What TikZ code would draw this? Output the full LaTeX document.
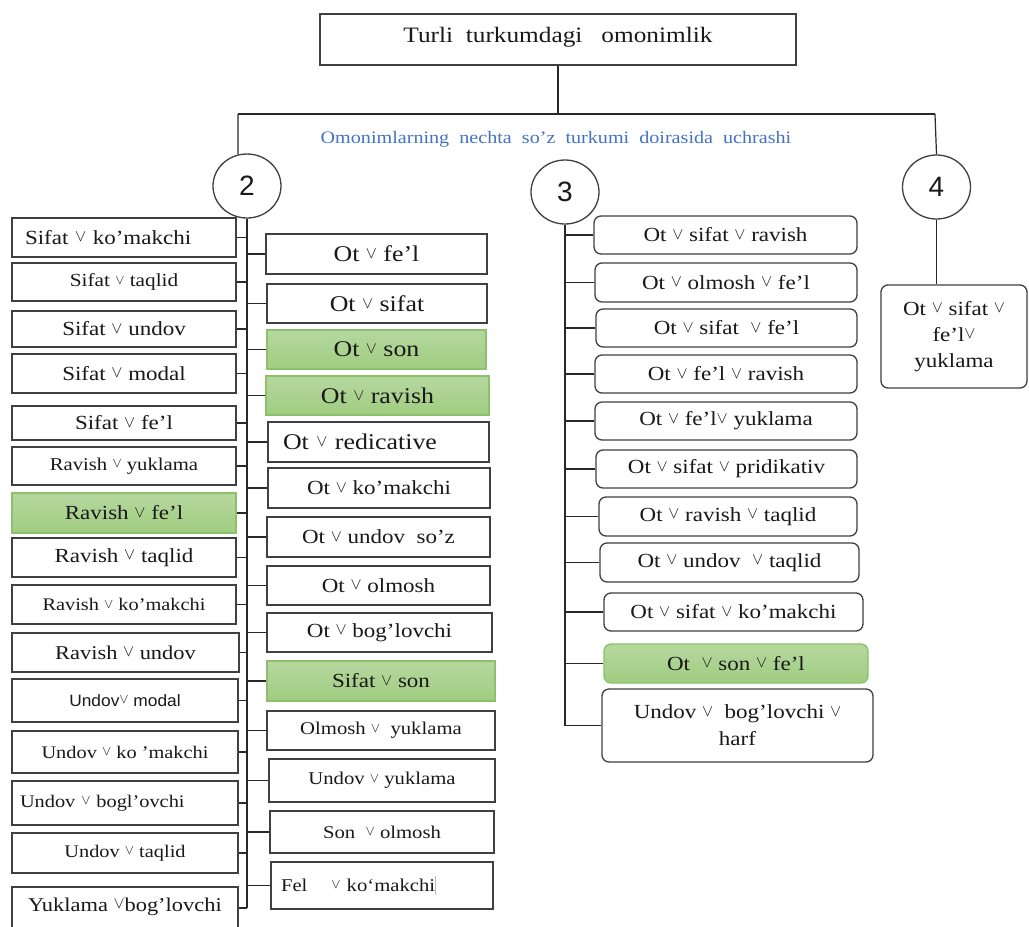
\documentclass[tikz,border=0pt]{standalone}
\usepackage{graphicx}
\usepackage{fontspec}
\setmainfont{Liberation Serif}[FakeStretch=1.15]
\newfontfamily\numfont{Liberation Sans}
\newfontfamily\sansf{Liberation Sans}[FakeStretch=1.05]
\usetikzlibrary{shapes.geometric}
\definecolor{bordc}{RGB}{64,64,64}
\definecolor{linec}{RGB}{40,40,40}
\definecolor{txtc}{RGB}{25,25,25}
\definecolor{bluet}{RGB}{68,114,196}
\definecolor{gtop}{RGB}{182,216,160}
\definecolor{gbot}{RGB}{160,204,128}
\definecolor{gbord}{RGB}{140,192,108}
\newcommand\myor{\raisebox{0.3ex}{\scalebox{0.8}{$\vee$}}}
\newcommand\fsz[2]{\fontsize{#1}{#2}\selectfont}
\tikzset{
  box/.style={draw=bordc, line width=1.3pt, fill=white, inner sep=0pt, text=txtc, align=center},
  gbox/.style={box, draw=gbord, top color=gtop, bottom color=gbot},
  rbox/.style={box, rounded corners=7pt},
  circ/.style={ellipse, draw=bordc, line width=1.3pt, fill=white, minimum width=68pt, minimum height=64pt, inner sep=0pt, font=\numfont\fsz{28}{32}, text=txtc},
  conn/.style={draw=linec, line width=1.2pt},
  wh/.style 2 args={minimum width=#1pt, minimum height=#2pt},
  lf/.style 2 args={text width=#1pt, inner xsep=#2pt, align=left},
}
\begin{document}
\begin{tikzpicture}[x=1pt,y=-1pt]
\useasboundingbox[fill=white] (0,0) rectangle (1029,927);

% top
\node[box, wh={476}{51}, text height=16pt, text depth=10pt, font=\fsz{22}{26}] (top) at (558,39.5) {Turli\ \ turkumdagi\ \ \ omonimlik};
\node[text=bluet, font=\fsz{17.5}{20}, inner sep=0pt] (blue) at (556,139) {Omonimlarning\ \ nechta\ \ so’z\ \ turkumi\ \ doirasida\ \ uchrashi};

\node[circ] (k2) at (247,186) {2};
\node[circ] (k3) at (565,192) {3};
\node[circ] (k4) at (936.5,187) {4};

\coordinate (hl) at (238,114);
\coordinate (hr) at (935,114);
\draw[conn] (top.south) -- (top.south |- hl);
\draw[conn] (hl) -- (hr);
\draw[conn] (hl) -- (k2.106);
\draw[conn] (hr) -- (k4.north);

% left column
\node[box, wh={224}{39}, lf={198}{13}, font=\fsz{20}{24}] (l1) at (124,237.5) {Sifat \myor{} ko’makchi};
\node[box, wh={224}{38}, font=\fsz{18.5}{22}] (l2) at (124,282) {Sifat \myor{} taqlid};
\node[box, wh={224}{36}, font=\fsz{20}{24}] (l3) at (124,329) {Sifat \myor{} undov};
\node[box, wh={224}{39}, font=\fsz{20}{24}] (l4) at (124,373.5) {Sifat \myor{} modal};
\node[box, wh={224}{34}, font=\fsz{20}{24}] (l5) at (124,423) {Sifat \myor{} fe’l};
\node[box, wh={224}{38}, font=\fsz{18}{22}] (l6) at (124,466) {Ravish \myor{} yuklama};
\node[gbox, wh={224}{40}, font=\fsz{20}{24}] (l7) at (124,513) {Ravish \myor{} fe’l};
\node[box, wh={224}{39}, font=\fsz{20}{24}] (l8) at (124,557.5) {Ravish \myor{} taqlid};
\node[box, wh={224}{39}, font=\fsz{17.7}{22}] (l9) at (124,604.5) {Ravish \myor{} ko’makchi};
\node[box, wh={227}{39}, font=\fsz{19.5}{24}] (l10) at (125.5,652.5) {Ravish \myor{} undov};
\node[box, wh={226}{43}, font=\sansf\fsz{16.5}{20}] (l11) at (125,700.5) {Undov\myor{} modal};
\node[box, wh={226}{42}, font=\fsz{17.7}{22}] (l12) at (125,752) {Undov \myor{} ko ’makchi};
\node[box, wh={226}{44}, lf={210}{8}, font=\fsz{17.7}{22}] (l13) at (125,803) {Undov \myor{} bogl’ovchi};
\node[box, wh={226}{40}, font=\fsz{17.7}{22}] (l14) at (125,853) {Undov \myor{} taqlid};
\node[box, wh={226}{60}, text height=14pt, text depth=26pt, font=\fsz{19.5}{24}] (l15) at (125,917) {Yuklama \myor{}bog’lovchi};

% middle column
\node[box, wh={221}{40}, font=\fsz{22.5}{26}] (m1) at (376.5,254) {Ot \myor{} fe’l};
\node[box, wh={220}{39}, font=\fsz{22.5}{26}] (m2) at (377,303.5) {Ot \myor{} sifat};
\node[gbox, wh={219}{39}, font=\fsz{22.5}{26}] (m3) at (376.5,349.5) {Ot \myor{} son};
\node[gbox, wh={223}{39}, font=\fsz{22.5}{26}] (m4) at (377.5,395.5) {Ot \myor{} ravish};
\node[box, wh={221}{40}, lf={191}{15}, font=\fsz{22.5}{26}] (m5) at (378.5,442) {Ot \myor{} redicative};
\node[box, wh={222}{40}, font=\fsz{20}{24}] (m6) at (379,488) {Ot \myor{} ko’makchi};
\node[box, wh={223}{40}, font=\fsz{20}{24}] (m7) at (378.5,537) {Ot \myor{} undov\ \ so’z};
\node[box, wh={223}{39}, font=\fsz{20}{24}] (m8) at (378.5,585.5) {Ot \myor{} olmosh};
\node[box, wh={225}{39}, font=\fsz{20}{24}] (m9) at (379.5,632.5) {Ot \myor{} bog’lovchi};
\node[gbox, wh={228}{40}, font=\fsz{20}{24}] (m10) at (381,681) {Sifat \myor{} son};
\node[box, wh={228}{39}, font=\fsz{18}{22}] (m11) at (381,730.5) {Olmosh \myor{}\ \ yuklama};
\node[box, wh={226}{43}, font=\fsz{18}{22}] (m12) at (382,780.5) {Undov \myor{} yuklama};
\node[box, wh={224}{42}, font=\fsz{18}{22}] (m13) at (382,832) {Son\ \ \myor{} olmosh};
\node[box, wh={222}{47}, lf={202}{10}, font=\fsz{18}{22}] (m14) at (382,885.5) {Fel\ \ \ \ \myor{} ko‘makchi{\color{lightgray}\rule[-0.2em]{0.5pt}{1.05em}}};

\coordinate (t2e) at (247,908);
\draw[conn] (k2.south) -- (t2e);
\foreach \i in {1,...,14} \draw[conn] (l\i.east) -- (l\i.east -| t2e);
\draw[conn] (t2e -| l15.east) -- (t2e);
\foreach \i in {1,...,14} \draw[conn] (m\i.west) -- (m\i.west -| t2e);

% column 3
\node[rbox, wh={263}{38}, font=\fsz{20}{24}] (c1) at (725.5,235) {Ot \myor{} sifat \myor{} ravish};
\node[rbox, wh={262}{39}, font=\fsz{20}{24}] (c2) at (726,282.5) {Ot \myor{} olmosh \myor{} fe’l};
\node[rbox, wh={261}{38}, font=\fsz{20}{24}] (c3) at (726.5,328) {Ot \myor{} sifat\ \ \myor{} fe’l};
\node[rbox, wh={262}{38}, font=\fsz{20}{24}] (c4) at (726,374) {Ot \myor{} fe’l \myor{} ravish};
\node[rbox, wh={262}{38}, font=\fsz{20}{24}] (c5) at (726,421) {Ot \myor{} fe’l\myor{} yuklama};
\node[rbox, wh={261}{38}, font=\fsz{20}{24}] (c6) at (726.5,469) {Ot \myor{} sifat \myor{} pridikativ};
\node[rbox, wh={258}{39}, font=\fsz{20}{24}] (c7) at (728,516.5) {Ot \myor{} ravish \myor{} taqlid};
\node[rbox, wh={259}{39}, font=\fsz{20}{24}] (c8) at (729.5,562.5) {Ot \myor{} undov\ \ \myor{} taqlid};
\node[rbox, wh={259}{38}, font=\fsz{20}{24}] (c9) at (733.5,612) {Ot \myor{} sifat \myor{} ko’makchi};
\node[gbox, rounded corners=7pt, wh={264}{39}, font=\fsz{20}{24}] (c10) at (736,663.5) {Ot\ \ \myor{} son \myor{} fe’l};
\node[rbox, wh={271}{73}, font=\fsz{20}{27}] (c11) at (737.5,725.5) {Undov \myor{}\ \ bog’lovchi \myor{}\\harf};

\coordinate (t3e) at (565,725.5);
\draw[conn] (k3.south) -- (t3e);
\foreach \i in {1,...,11} \draw[conn] (c\i.west) -- (c\i.west -| t3e);

% column 4
\node[rbox, wh={146}{103}, font=\fsz{20}{26}] (b4) at (954,336.5) {Ot \myor{} sifat \myor{}\\fe’l\myor{}\\yuklama};
\draw[conn] (k4.south) -- (k4.south |- b4.north);
\end{tikzpicture}
\end{document}
